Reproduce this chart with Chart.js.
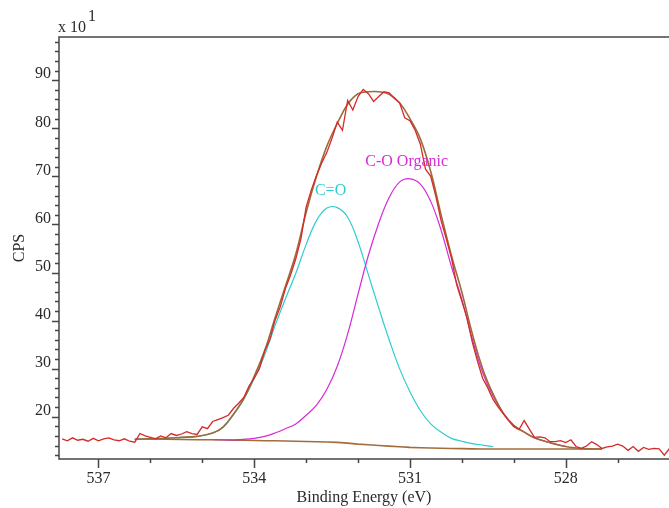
<!DOCTYPE html>
<html>
<head>
<meta charset="utf-8">
<script src="https://cdn.jsdelivr.net/npm/chart.js@4.4.1/dist/chart.umd.min.js"></script>
<style>
html, body { margin: 0; padding: 0; background: #fff; }
#wrap { width: 669px; height: 508px; position: relative; }
</style>
</head>
<body>
<div id="wrap"><canvas id="xps"></canvas></div>
<script>
// measured spectrum, binding energy (eV) and counts (x10 CPS)
const rawEnergy = [537.7, 537.6, 537.5, 537.4, 537.3, 537.2, 537.1, 537.0,
  536.9, 536.8, 536.7, 536.6, 536.5, 536.4, 536.3, 536.2, 536.1, 536.0,
  535.9, 535.8, 535.7, 535.6, 535.5, 535.4, 535.3, 535.2, 535.1, 535.0,
  534.9, 534.8, 534.7, 534.6, 534.5, 534.4, 534.3, 534.2, 534.1, 534.0,
  533.9, 533.8, 533.7, 533.6, 533.5, 533.4, 533.3, 533.2, 533.1, 533.0,
  532.9, 532.8, 532.7, 532.6, 532.5, 532.4, 532.3, 532.2, 532.1, 532.0,
  531.9, 531.8, 531.7, 531.6, 531.5, 531.4, 531.3, 531.2, 531.1, 531.0,
  530.9, 530.8, 530.7, 530.6, 530.5, 530.4, 530.3, 530.2, 530.1, 530.0,
  529.9, 529.8, 529.7, 529.6, 529.5, 529.4, 529.3, 529.2, 529.1, 529.0,
  528.9, 528.8, 528.7, 528.6, 528.5, 528.4, 528.3, 528.2, 528.1, 528.0,
  527.9, 527.8, 527.7, 527.6, 527.5, 527.4, 527.3, 527.2, 527.1, 527.0,
  526.9, 526.8, 526.7, 526.6, 526.5, 526.4, 526.3, 526.2, 526.1, 526.0];
const rawCounts = [15.4, 15.0, 15.6, 15.1, 15.3, 14.9, 15.5, 15.0,
  15.4, 15.6, 15.2, 15.0, 15.4, 14.9, 14.7, 16.5, 16.0, 15.7,
  15.4, 16.0, 15.6, 16.5, 16.1, 16.4, 16.9, 16.5, 16.3, 17.9,
  17.5, 19.0, 19.4, 19.8, 20.3, 21.7, 22.8, 24.0, 26.4, 28.0,
  30.0, 33.6, 36.0, 40.0, 42.8, 46.6, 49.5, 52.8, 57.0, 63.6,
  67.2, 70.2, 72.8, 75.0, 78.0, 81.3, 79.6, 85.8, 83.8, 86.6,
  88.1, 87.2, 85.6, 86.6, 87.6, 87.4, 86.2, 85.3, 82.2, 81.6,
  79.6, 76.7, 71.5, 70.0, 65.8, 60.8, 57.0, 53.0, 47.5, 44.0,
  40.5, 35.6, 31.6, 28.0, 26.0, 23.6, 22.0, 20.6, 19.2, 17.9,
  17.3, 19.2, 17.4, 15.7, 15.8, 15.6, 14.8, 14.8, 15.0, 14.6,
  15.2, 13.8, 13.4, 13.9, 14.8, 14.2, 13.4, 13.7, 13.9, 14.3,
  13.9, 13.0, 13.8, 12.8, 13.6, 13.2, 13.4, 13.3, 12.0, 13.4];

// fitted components
const fitEnergy = [536.3, 536.0, 535.7, 535.4, 535.1, 534.8, 534.6, 534.4, 534.2, 534.0,
  533.8, 533.6, 533.4, 533.2, 533.0, 532.8, 532.6, 532.4, 532.2, 532.0,
  531.8, 531.6, 531.4, 531.2, 531.0, 530.8, 530.6, 530.4, 530.2, 530.0,
  529.8, 529.6, 529.4, 529.2, 529.0, 528.8, 528.6, 528.4, 528.2, 528.0,
  527.8, 527.6, 527.3];
const backgroundCounts = [15.3, 15.3, 15.3, 15.25, 15.2, 15.2, 15.15, 15.1, 15.1, 15.05,
  15.0, 15.0, 14.95, 14.9, 14.85, 14.8, 14.75, 14.65, 14.5, 14.3,
  14.15, 14.0, 13.88, 13.75, 13.62, 13.55, 13.48, 13.43, 13.4, 13.35,
  13.3, 13.28, 13.28, 13.28, 13.28, 13.28, 13.28, 13.28, 13.28, 13.28,
  13.28, 13.28, 13.28];
const carbonylCounts = [15.3, 15.4, 15.5, 15.7, 15.9, 16.6, 17.8, 20.4, 23.6, 27.9,
  32.8, 38.9, 44.5, 49.8, 55.8, 60.8, 63.4, 63.5, 61.5, 56.4,
  49.5, 42.6, 36.0, 30.0, 25.2, 21.3, 18.5, 16.8, 15.5, 14.9,
  14.4, 14.1, 13.75, null, null, null, null, null, null, null,
  null, null, null];
const organicCounts = [null, null, null, null, null, 15.2, 15.2, 15.2, 15.3, 15.5,
  15.9, 16.6, 17.5, 18.5, 20.3, 22.4, 25.7, 30.5, 37.2, 45.5,
  53.6, 60.3, 65.6, 68.8, 69.5, 68.4, 64.8, 58.8, 51.2, 44.4,
  36.2, 29.2, 24.3, 20.7, 18.2, 16.8, 15.6, 14.9, 14.3, 13.8,
  null, null, null];
const envelopeCounts = [15.3, 15.4, 15.5, 15.7, 15.9, 16.6, 17.85, 20.5, 23.8, 28.4,
  33.7, 40.5, 47.1, 53.8, 62.5, 70.0, 76.3, 81.0, 85.0, 87.2,
  87.6, 87.6, 87.1, 85.3, 82.0, 77.8, 71.0, 62.0, 53.5, 45.9,
  37.3, 30.0, 24.75, 20.7, 18.2, 16.8, 15.6, 14.9, 14.3, 13.8,
  13.5, 13.3, 13.28];

const energyTicks = [537, 534, 531, 528];
const countTicks = [20, 30, 40, 50, 60, 70, 80, 90];
const peakNames = ["C=O", "C-O Organic"];
const peakLabelAt = [[532.83, 66.9], [531.86, 73.1]];
const peakColors = ["#2fcdd0", "#d62ad6"];

const serif = '"Liberation Serif", "Times New Roman", serif';
const textColor = "#2a2a2a";

function pts(xs, ys) {
  return xs.map((e, i) => ({ x: e, y: ys[i] }));
}

// axis frame, minor ticks and the text that Chart.js has no slot for
const axisFrame = {
  id: "axisFrame",
  afterDraw(chart) {
    const { ctx, chartArea: a, scales: { x, y } } = chart;
    ctx.save();
    ctx.strokeStyle = "#454545";
    ctx.lineWidth = 1.5;
    ctx.beginPath();
    ctx.moveTo(a.right, a.top);
    ctx.lineTo(a.left, a.top);
    ctx.lineTo(a.left, a.bottom);
    ctx.lineTo(a.right, a.bottom);
    for (let v = 12; v <= 98; v += 2) {
      const py = Math.round(y.getPixelForValue(v)) + 0.5;
      const len = v % 10 === 0 ? 7 : 4;
      ctx.moveTo(a.left - len, py);
      ctx.lineTo(a.left, py);
    }
    for (let e = 537; e >= 526; e--) {
      const px = Math.round(x.getPixelForValue(e)) + 0.5;
      const len = energyTicks.includes(e) ? 9 : 4;
      ctx.moveTo(px, a.bottom);
      ctx.lineTo(px, a.bottom + len);
    }
    ctx.stroke();

    ctx.fillStyle = textColor;
    ctx.font = "16px " + serif;
    ctx.textBaseline = "alphabetic";
    ctx.textAlign = "left";
    ctx.fillText("x 10", 58, 32);
    ctx.fillText("1", 88, 21);

    ctx.textBaseline = "middle";
    peakNames.forEach((name, i) => {
      ctx.fillStyle = peakColors[i];
      ctx.fillText(name, x.getPixelForValue(peakLabelAt[i][0]), y.getPixelForValue(peakLabelAt[i][1]));
    });
    ctx.restore();
  }
};

new Chart(document.getElementById("xps"), {
  type: "line",
  data: {
    datasets: [
      { label: "Raw", data: pts(rawEnergy, rawCounts), borderColor: "#d42a2a", borderWidth: 1.3, tension: 0 },
      { label: "Envelope", data: pts(fitEnergy, envelopeCounts), borderColor: "#9c6b3a", borderWidth: 1.6, tension: 0.4 },
      { label: "C-O Organic", data: pts(fitEnergy, organicCounts), borderColor: "#d62ad6", borderWidth: 1.2, tension: 0.4 },
      { label: "C=O", data: pts(fitEnergy, carbonylCounts), borderColor: "#2fcdd0", borderWidth: 1.2, tension: 0.4 },
      { label: "Background", data: pts(fitEnergy, backgroundCounts), borderColor: "#a26d3b", borderWidth: 1.6, tension: 0 }
    ]
  },
  options: {
    responsive: true,
    maintainAspectRatio: false,
    animation: false,
    layout: { padding: { top: 37, left: 0, right: 0, bottom: 0 }, autoPadding: false },
    plugins: { legend: { display: false }, tooltip: { enabled: false } },
    elements: { point: { radius: 0 } },
    scales: {
      x: {
        type: "linear",
        reverse: true,
        min: 526.01,
        max: 537.76,
        grid: { display: false, drawTicks: false },
        border: { display: false },
        afterBuildTicks: s => { s.ticks = energyTicks.map(v => ({ value: v })); },
        afterFit: s => { s.height = 49; },
        ticks: { padding: 10, autoSkip: false, maxRotation: 0, color: textColor, font: { family: serif, size: 16 } },
        title: { display: true, text: "Binding Energy (eV)", color: textColor, padding: { top: 0, bottom: 1 }, font: { family: serif, size: 16 } }
      },
      y: {
        type: "linear",
        min: 11.2,
        max: 99,
        grid: { display: false, drawTicks: false },
        border: { display: false },
        afterBuildTicks: s => { s.ticks = countTicks.map(v => ({ value: v })); },
        afterFit: s => { s.width = 59; },
        ticks: { padding: 8, labelOffset: -6, color: textColor, font: { family: serif, size: 16 } },
        title: { display: true, text: "CPS", color: textColor, padding: { top: 10, bottom: 0 }, font: { family: serif, size: 16 } }
      }
    }
  },
  plugins: [axisFrame]
});
</script>
</body>
</html>
